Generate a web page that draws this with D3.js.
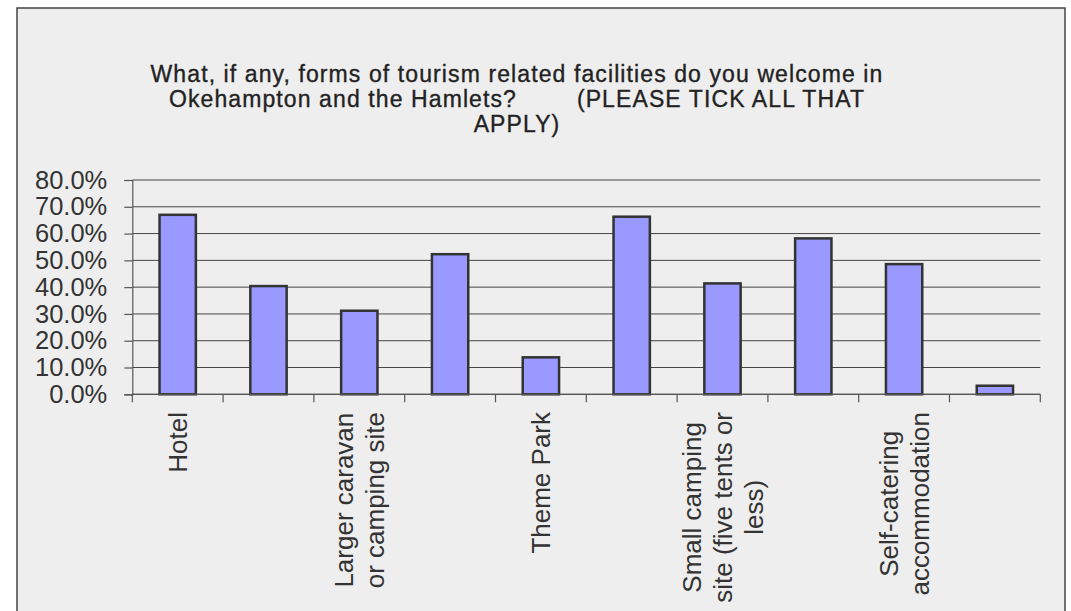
<!DOCTYPE html>
<html><head><meta charset="utf-8">
<script src="https://cdn.jsdelivr.net/npm/d3@7"></script>
<style>
html,body{margin:0;padding:0;background:#ffffff;}
svg{display:block;}
text{font-family:"Liberation Sans",Arial,sans-serif;fill:#333333;}
</style></head>
<body>
<svg id="chart" width="1071" height="611"></svg>
<script>
// Category labels (Excel only printed every other label; unprinted ones are null)
const categories = [
  ["Hotel"],
  null,
  ["Larger caravan", "or camping site"],
  null,
  ["Theme Park"],
  null,
  ["Small camping", "site (five tents or", "less)"],
  null,
  ["Self-catering", "accommodation"],
  null
];
const values = [0.670, 0.404, 0.312, 0.523, 0.138, 0.663, 0.414, 0.582, 0.486, 0.032];
const yTicks = [0, 0.1, 0.2, 0.3, 0.4, 0.5, 0.6, 0.7, 0.8];
const titleLines = [
  "What, if any, forms of tourism related facilities do you welcome in",
  "Okehampton and the Hamlets?        (PLEASE TICK ALL THAT",
  "APPLY)"
];

const svg = d3.select("#chart");
// chart area frame
svg.append("rect").attr("x", 17).attr("y", 8).attr("width", 1048).attr("height", 620)
  .attr("fill", "#eeeeee").attr("stroke", "#444").attr("stroke-width", 1.5);

const plot = {left: 132.3, right: 1040.3, top: 180, bottom: 394.3};
const idx = values.map((d, i) => i);
const x = d3.scaleBand().domain(idx).range([plot.left, plot.right]).paddingInner(0.6).paddingOuter(0.3);
const xb = d3.scaleBand().domain(idx).range([plot.left, plot.right]);
const y = d3.scaleLinear().domain([0, 0.8]).range([plot.bottom, plot.top]);

// gridlines
svg.append("g").selectAll("line").data(yTicks).join("line")
  .attr("x1", plot.left).attr("x2", plot.right)
  .attr("y1", d => y(d)).attr("y2", d => y(d))
  .attr("stroke", "#444").attr("stroke-width", 1);

// y axis
const yAxis = svg.append("g").attr("transform", `translate(${plot.left},0)`)
  .call(d3.axisLeft(y).tickValues(yTicks).tickSize(8).tickPadding(17).tickFormat(d3.format(".1%")));
yAxis.select(".domain").attr("stroke", "#555").attr("stroke-width", 1.2);
yAxis.selectAll(".tick line").attr("stroke", "#555").attr("stroke-width", 1.2);
yAxis.selectAll(".tick text").attr("font-size", 25.5).attr("fill", "#333")
  .style("font-family", "'Liberation Sans',Arial,sans-serif");

// bars
svg.append("g").selectAll("rect").data(values).join("rect")
  .attr("x", (d, i) => x(i)).attr("width", x.bandwidth())
  .attr("y", d => y(d)).attr("height", d => y(0) - y(d))
  .attr("fill", "#9999ff").attr("stroke", "#333").attr("stroke-width", 2.5);

// x axis line and boundary ticks
const xg = svg.append("g");
xg.append("line").attr("x1", plot.left).attr("x2", plot.right)
  .attr("y1", plot.bottom).attr("y2", plot.bottom).attr("stroke", "#555").attr("stroke-width", 1.2);
const bounds = idx.map(i => xb(i)).concat([xb(idx[idx.length - 1]) + xb.bandwidth()]);
xg.selectAll("line.tk").data(bounds).join("line").attr("class", "tk")
  .attr("x1", d => d).attr("x2", d => d)
  .attr("y1", plot.bottom).attr("y2", plot.bottom + 8)
  .attr("stroke", "#555").attr("stroke-width", 1.2);

// rotated category labels
const fs = 26, lh = 31, top0 = 412;
categories.forEach((lines, i) => {
  if (!lines) return;
  const cx = xb(i) + xb.bandwidth() / 2;
  const g = svg.append("g").attr("transform", `translate(${cx},${top0}) rotate(-90)`);
  const ts = lines.map((t, k) => g.append("text").attr("font-size", fs).attr("text-anchor", "middle")
    .attr("y", (k - (lines.length - 1) / 2) * lh + 0.36 * fs).text(t));
  const maxW = d3.max(ts, t => t.node().getComputedTextLength());
  ts.forEach(t => t.attr("x", -maxW / 2));
});

// title (separate text per line)
titleLines.forEach((l, k) => {
  svg.append("text").attr("text-anchor", "middle")
    .attr("x", 517).attr("y", 82 + k * 25)
    .attr("font-size", 23).attr("letter-spacing", 1.1)
    .style("white-space", "pre").style("fill", "#222")
    .attr("stroke", "#222").attr("stroke-width", 0.35)
    .text(l);
});
</script>
</body></html>
